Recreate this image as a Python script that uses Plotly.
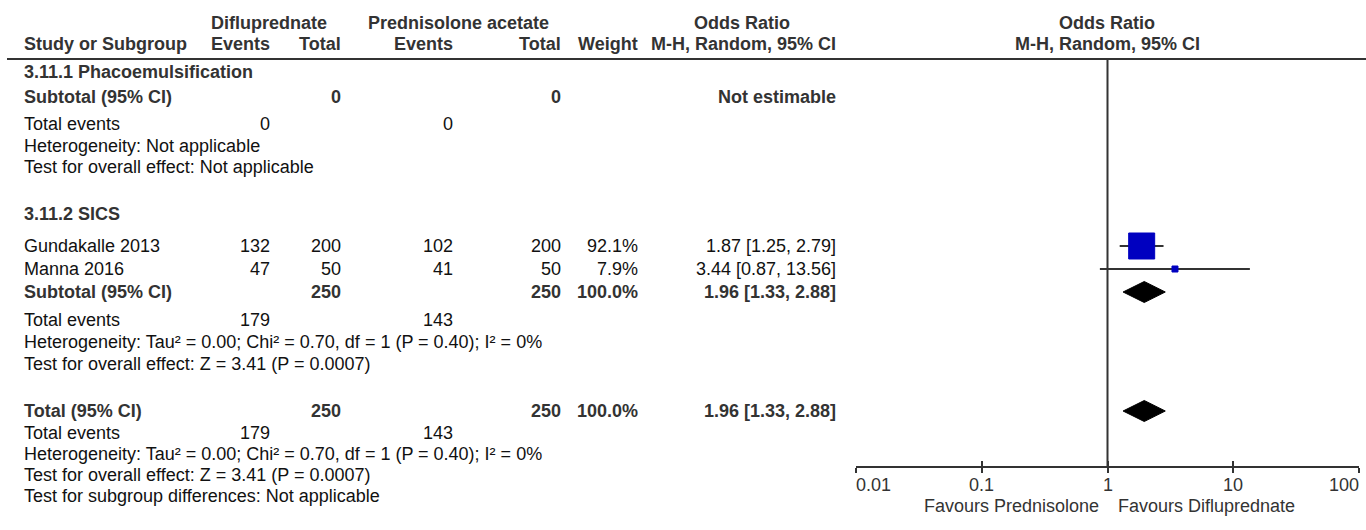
import math
import plotly.graph_objects as go

# ---------------- data ----------------
studies = ["Gundakalle 2013", "Manna 2016"]
diflu_events = [132, 47]
diflu_total = [200, 50]
pred_events = [102, 41]
pred_total = [200, 50]
weights = [92.1, 7.9]
or_est = [1.87, 3.44]
or_lo = [1.25, 0.87]
or_hi = [2.79, 13.56]

sub_diflu_events = 179
sub_pred_events = 143
sub_diflu_total = 250
sub_pred_total = 250
sub_weight = 100.0
sub_est, sub_lo, sub_hi = 1.96, 1.33, 2.88

tot_diflu_events = 179
tot_pred_events = 143
tot_diflu_total = 250
tot_pred_total = 250
tot_weight = 100.0
tot_est, tot_lo, tot_hi = 1.96, 1.33, 2.88

null_value = 1
tick_vals = [0.01, 0.1, 1, 10, 100]
tick_text = ["0.01", "0.1", "1", "10", "100"]

het_text = "Heterogeneity: Tau\u00b2 = 0.00; Chi\u00b2 = 0.70, df = 1 (P = 0.40); I\u00b2 = 0%"
test_text = "Test for overall effect: Z = 3.41 (P = 0.0007)"

# ---------------- layout constants (pixels) ----------------
W, H = 1366, 530
FONT = "Liberation Sans, Arial, sans-serif"
FS = 18
C_BOLD = "#333333"
C_TXT = "#111111"
C_LINE = "#333333"

X_LEFT = 22
X_DE, X_DT, X_PE, X_PT, X_W, X_OR = 272, 343, 455, 563, 640, 838
AX_L, AX_R = 856, 1359

Y_H1, Y_H2, Y_RULE = 23, 44, 59
Y_G1, Y_SUB1, Y_TE1, Y_HET1, Y_TEST1 = 72, 97, 124, 146, 167
Y_G2 = 214
Y_STUDY = [246, 269]
Y_SUB2, Y_TE2, Y_HET2, Y_TEST2 = 292, 320, 342, 364
Y_TOT, Y_TE3, Y_HET3, Y_TEST3, Y_SGD = 411, 433, 454, 475, 496
Y_AXIS, Y_TICKLAB, Y_FAV = 467, 485, 506

BOX_SIZES = [26, 6]
DIAMOND_HALF = 10.5

fig = go.Figure()

annotations = []


def txt(x, y, s, anchor="left", bold=False, color=None):
    annotations.append(dict(
        x=x / W, y=y, xref="paper", yref="y", text=("<b>%s</b>" % s) if bold else s,
        showarrow=False, xanchor=anchor, yanchor="middle",
        font=dict(family=FONT, size=FS, color=color or (C_BOLD if bold else C_TXT)),
    ))


# headers
txt(269, Y_H1, "Difluprednate", "center", True)
txt(458, Y_H1, "Prednisolone acetate", "center", True)
txt(742, Y_H1, "Odds Ratio", "center", True)
txt(1107, Y_H1, "Odds Ratio", "center", True)
txt(X_LEFT, Y_H2, "Study or Subgroup", "left", True)
txt(X_DE, Y_H2, "Events", "right", True)
txt(X_DT, Y_H2, "Total", "right", True)
txt(X_PE, Y_H2, "Events", "right", True)
txt(X_PT, Y_H2, "Total", "right", True)
txt(X_W, Y_H2, "Weight", "right", True)
txt(X_OR, Y_H2, "M-H, Random, 95% CI", "right", True)
txt(1107, Y_H2, "M-H, Random, 95% CI", "center", True)

# subgroup 1
txt(X_LEFT, Y_G1, "3.11.1 Phacoemulsification", "left", True)
txt(X_LEFT, Y_SUB1, "Subtotal (95% CI)", "left", True)
txt(X_DT, Y_SUB1, "0", "right", True)
txt(X_PT, Y_SUB1, "0", "right", True)
txt(X_OR, Y_SUB1, "Not estimable", "right", True)
txt(X_LEFT, Y_TE1, "Total events")
txt(X_DE, Y_TE1, "0", "right")
txt(X_PE, Y_TE1, "0", "right")
txt(X_LEFT, Y_HET1, "Heterogeneity: Not applicable")
txt(X_LEFT, Y_TEST1, "Test for overall effect: Not applicable")

# subgroup 2
txt(X_LEFT, Y_G2, "3.11.2 SICS", "left", True)
for i, name in enumerate(studies):
    y = Y_STUDY[i]
    txt(X_LEFT, y, name)
    txt(X_DE, y, str(diflu_events[i]), "right")
    txt(X_DT, y, str(diflu_total[i]), "right")
    txt(X_PE, y, str(pred_events[i]), "right")
    txt(X_PT, y, str(pred_total[i]), "right")
    txt(X_W, y, "%.1f%%" % weights[i], "right")
    txt(X_OR, y, "%.2f [%.2f, %.2f]" % (or_est[i], or_lo[i], or_hi[i]), "right")

txt(X_LEFT, Y_SUB2, "Subtotal (95% CI)", "left", True)
txt(X_DT, Y_SUB2, str(sub_diflu_total), "right", True)
txt(X_PT, Y_SUB2, str(sub_pred_total), "right", True)
txt(X_W, Y_SUB2, "%.1f%%" % sub_weight, "right", True)
txt(X_OR, Y_SUB2, "%.2f [%.2f, %.2f]" % (sub_est, sub_lo, sub_hi), "right", True)
txt(X_LEFT, Y_TE2, "Total events")
txt(X_DE, Y_TE2, str(sub_diflu_events), "right")
txt(X_PE, Y_TE2, str(sub_pred_events), "right")
txt(X_LEFT, Y_HET2, het_text)
txt(X_LEFT, Y_TEST2, test_text)

# overall
txt(X_LEFT, Y_TOT, "Total (95% CI)", "left", True)
txt(X_DT, Y_TOT, str(tot_diflu_total), "right", True)
txt(X_PT, Y_TOT, str(tot_pred_total), "right", True)
txt(X_W, Y_TOT, "%.1f%%" % tot_weight, "right", True)
txt(X_OR, Y_TOT, "%.2f [%.2f, %.2f]" % (tot_est, tot_lo, tot_hi), "right", True)
txt(X_LEFT, Y_TE3, "Total events")
txt(X_DE, Y_TE3, str(tot_diflu_events), "right")
txt(X_PE, Y_TE3, str(tot_pred_events), "right")
txt(X_LEFT, Y_HET3, het_text)
txt(X_LEFT, Y_TEST3, test_text)
txt(X_LEFT, Y_SGD, "Test for subgroup differences: Not applicable")

# tick labels on the forest axis (log axis -> annotation x in log10 units)
for i, (v, t) in enumerate(zip(tick_vals, tick_text)):
    anchor = "left" if i == 0 else ("right" if i == len(tick_vals) - 1 else "center")
    annotations.append(dict(
        x=math.log10(v), y=Y_TICKLAB, xref="x", yref="y", text=t, showarrow=False,
        xanchor=anchor, yanchor="middle", xshift=(-2 if i == 0 else (2 if i == len(tick_vals) - 1 else 0)),
        font=dict(family=FONT, size=FS, color=C_BOLD),
    ))
annotations.append(dict(x=math.log10(null_value), y=Y_FAV, xref="x", yref="y",
                        text="Favours Prednisolone", showarrow=False, xanchor="right",
                        yanchor="middle", xshift=-7, font=dict(family=FONT, size=FS, color=C_BOLD)))
annotations.append(dict(x=math.log10(null_value), y=Y_FAV, xref="x", yref="y",
                        text="Favours Difluprednate", showarrow=False, xanchor="left",
                        yanchor="middle", xshift=8, font=dict(family=FONT, size=FS, color=C_BOLD)))

# ---------------- forest marks ----------------
# line of no effect
fig.add_trace(go.Scatter(x=[null_value, null_value], y=[Y_RULE, Y_AXIS], mode="lines",
                         line=dict(color=C_LINE, width=2), hoverinfo="skip", showlegend=False))
# CI lines
for i in range(len(studies)):
    fig.add_trace(go.Scatter(x=[or_lo[i], or_hi[i]], y=[Y_STUDY[i], Y_STUDY[i]], mode="lines",
                             line=dict(color=C_LINE, width=2), hoverinfo="skip", showlegend=False))
# squares
fig.add_trace(go.Scatter(x=or_est, y=Y_STUDY, mode="markers",
                         marker=dict(symbol="square", size=BOX_SIZES, color="#0000C0",
                                     opacity=1, line=dict(width=1, color="#0000C0")),
                         hoverinfo="skip", showlegend=False))
# diamonds
for est, lo, hi, yy in [(sub_est, sub_lo, sub_hi, Y_SUB2), (tot_est, tot_lo, tot_hi, Y_TOT)]:
    fig.add_trace(go.Scatter(x=[lo, est, hi, est, lo],
                             y=[yy, yy - DIAMOND_HALF, yy, yy + DIAMOND_HALF, yy],
                             mode="lines", fill="toself", fillcolor="#000000",
                             line=dict(color="#000000", width=1), hoverinfo="skip", showlegend=False))

# header rule
shapes = [dict(type="line", xref="paper", yref="y", x0=7 / W, x1=1.0, y0=Y_RULE, y1=Y_RULE,
               line=dict(color=C_LINE, width=2))]

axis_pos = (H - Y_AXIS) / H
fig.update_layout(
    width=W, height=H, autosize=False,
    margin=dict(l=0, r=0, t=0, b=0, pad=0),
    paper_bgcolor="white", plot_bgcolor="white",
    showlegend=False,
    xaxis=dict(type="log", range=[-2, 2], autorange=False, domain=[AX_L / W, AX_R / W],
               anchor="free", position=axis_pos, showgrid=False, zeroline=False,
               showline=True, linecolor=C_LINE, linewidth=2,
               tickmode="array", tickvals=tick_vals, ticks="outside", ticklen=5,
               tickwidth=2, tickcolor=C_LINE, showticklabels=False, fixedrange=True),
    xaxis3=dict(type="log", range=[-2, 2], autorange=False, domain=[AX_L / W, AX_R / W],
                anchor="free", position=axis_pos, overlaying="x", showgrid=False,
                zeroline=False, showline=False, tickmode="array", tickvals=tick_vals,
                ticks="inside", ticklen=6, tickwidth=2, tickcolor=C_LINE,
                showticklabels=False, fixedrange=True),
    yaxis=dict(range=[H, 0], autorange=False, domain=[0, 1], visible=False, fixedrange=True),
    annotations=annotations,
    shapes=shapes,
)
# invisible trace to instantiate the overlay tick axis
fig.add_trace(go.Scatter(x=[1], y=[Y_AXIS], xaxis="x3", mode="markers",
                         marker=dict(opacity=0), hoverinfo="skip", showlegend=False))

fig.write_html("out.html", config={"displayModeBar": False},
               post_script="document.body.style.margin='0';document.body.style.overflow='hidden';")
